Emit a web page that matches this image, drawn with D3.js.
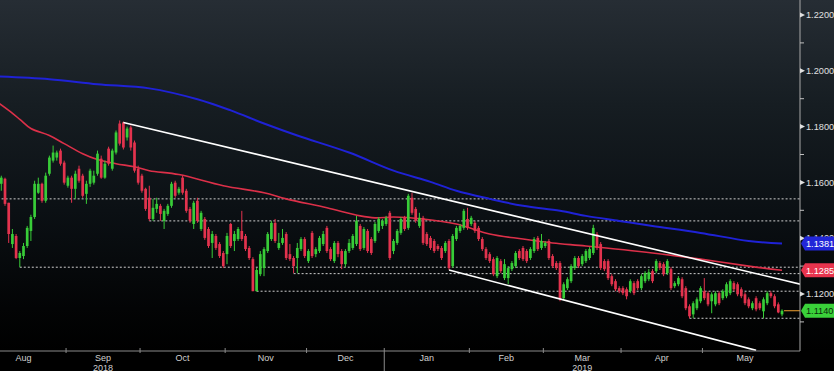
<!DOCTYPE html>
<html>
<head>
<meta charset="utf-8">
<script src="https://cdn.jsdelivr.net/npm/d3@7"></script>
<style>
  html, body { margin: 0; padding: 0; background: #000; overflow: hidden; }
</style>
</head>
<body>
<div id="chart"></div>
<script>
// daily EUR/USD candles, first one on 2018-08-08
const firstDate = "2018-08-08";
const opens = [
  1.1595,1.1613,1.1527,1.1379,1.1408,1.1329,1.1336,1.1372,1.1426,1.1476,
  1.1563,1.1595,1.1534,1.1631,1.1678,1.1689,1.1714,1.1671,1.1588,1.1617,
  1.1577,1.1649,1.1624,1.1559,1.1595,1.1599,1.1631,1.1685,1.1617,1.1721,
  1.1649,1.1707,1.1811,1.1815,1.1761,1.1797,1.1743,1.1649,1.1624,1.1577,
  1.1545,1.1469,1.1505,1.1516,1.1462,1.1487,1.1516,1.1599,1.1563,1.1617,
  1.1570,1.1505,1.1451,1.1534,1.1433,1.1469,1.1433,1.1383,1.1408,1.1379,
  1.1347,1.1343,1.1451,1.1390,1.1397,1.1426,1.1408,1.1365,1.1325,1.1210,
  1.1271,1.1293,1.1354,1.1397,1.1455,1.1365,1.1383,1.1415,1.1343,1.1329,
  1.1329,1.1361,1.1397,1.1318,1.1419,1.1343,1.1354,1.1379,1.1437,1.1361,
  1.1318,1.1383,1.1354,1.1307,1.1354,1.1365,1.1379,1.1444,1.1365,1.1426,
  1.1397,1.1390,1.1426,1.1444,1.1451,1.1491,1.1354,1.1383,1.1419,1.1473,
  1.1437,1.1545,1.1505,1.1444,1.1473,1.1415,1.1401,1.1390,1.1372,1.1365,
  1.1354,1.1390,1.1300,1.1397,1.1426,1.1437,1.1469,1.1451,1.1455,1.1437,
  1.1397,1.1361,1.1343,1.1325,1.1264,1.1318,1.1257,1.1257,1.1289,1.1300,
  1.1354,1.1365,1.1354,1.1329,1.1354,1.1401,1.1365,1.1372,1.1390,1.1336,
  1.1311,1.1311,1.1185,1.1221,1.1246,1.1293,1.1329,1.1307,1.1318,1.1329,
  1.1347,1.1415,1.1379,1.1318,1.1318,1.1264,1.1246,1.1221,1.1221,1.1217,
  1.1210,1.1239,1.1246,1.1221,1.1246,1.1253,1.1282,1.1282,1.1311,1.1307,
  1.1275,1.1289,1.1228,1.1235,1.1253,1.1221,1.1156,1.1127,1.1149,1.1174,
  1.1210,1.1203,1.1174,1.1163,1.1203,1.1185,1.1192,1.1203,1.1239,1.1235,
  1.1217,1.1199,1.1181,1.1149,1.1185,1.1167,1.1138,1.1167,1.1203,1.1192,
  1.1163,1.1127
];
const highs = [
  1.1624,1.1617,1.1527,1.1433,1.1415,1.1354,1.1383,1.1444,1.1484,1.1606,
  1.1617,1.1599,1.1635,1.1696,1.1732,1.1714,1.1721,1.1678,1.1624,1.1624,
  1.1642,1.1660,1.1631,1.1606,1.1649,1.1642,1.1714,1.1696,1.1678,1.1728,
  1.1721,1.1786,1.1822,1.1818,1.1800,1.1804,1.1750,1.1660,1.1631,1.1581,
  1.1588,1.1541,1.1545,1.1523,1.1505,1.1523,1.1602,1.1606,1.1584,1.1624,
  1.1577,1.1512,1.1534,1.1545,1.1498,1.1476,1.1440,1.1426,1.1415,1.1386,
  1.1354,1.1419,1.1455,1.1426,1.1440,1.1498,1.1415,1.1372,1.1332,1.1293,
  1.1354,1.1368,1.1422,1.1462,1.1469,1.1419,1.1433,1.1422,1.1379,1.1336,
  1.1383,1.1404,1.1404,1.1361,1.1426,1.1368,1.1408,1.1426,1.1444,1.1368,
  1.1390,1.1390,1.1361,1.1361,1.1397,1.1415,1.1480,1.1451,1.1440,1.1433,
  1.1404,1.1458,1.1476,1.1469,1.1480,1.1498,1.1397,1.1433,1.1476,1.1480,
  1.1559,1.1563,1.1512,1.1491,1.1480,1.1422,1.1408,1.1397,1.1379,1.1372,
  1.1390,1.1397,1.1415,1.1444,1.1451,1.1505,1.1509,1.1480,1.1462,1.1444,
  1.1404,1.1368,1.1350,1.1332,1.1336,1.1325,1.1325,1.1300,1.1318,1.1354,
  1.1361,1.1372,1.1361,1.1368,1.1404,1.1408,1.1415,1.1390,1.1397,1.1343,
  1.1318,1.1318,1.1242,1.1260,1.1307,1.1336,1.1336,1.1343,1.1361,1.1368,
  1.1448,1.1422,1.1386,1.1325,1.1325,1.1271,1.1253,1.1228,1.1228,1.1224,
  1.1253,1.1246,1.1253,1.1271,1.1282,1.1289,1.1289,1.1325,1.1318,1.1314,
  1.1325,1.1296,1.1246,1.1264,1.1260,1.1228,1.1163,1.1174,1.1188,1.1228,
  1.1257,1.1210,1.1206,1.1210,1.1210,1.1217,1.1242,1.1253,1.1246,1.1242,
  1.1224,1.1206,1.1188,1.1174,1.1192,1.1174,1.1188,1.1210,1.1210,1.1199,
  1.1170,1.1145
];
const lows = [
  1.1570,1.1516,1.1383,1.1365,1.1325,1.1296,1.1325,1.1365,1.1390,1.1469,
  1.1559,1.1527,1.1527,1.1624,1.1671,1.1678,1.1660,1.1592,1.1581,1.1527,
  1.1541,1.1599,1.1545,1.1523,1.1584,1.1592,1.1624,1.1613,1.1613,1.1660,
  1.1642,1.1700,1.1732,1.1718,1.1750,1.1714,1.1635,1.1592,1.1563,1.1498,
  1.1462,1.1462,1.1491,1.1462,1.1433,1.1480,1.1509,1.1545,1.1556,1.1556,
  1.1491,1.1455,1.1433,1.1455,1.1426,1.1394,1.1365,1.1329,1.1358,1.1329,
  1.1293,1.1307,1.1365,1.1354,1.1390,1.1390,1.1354,1.1322,1.1210,1.1210,
  1.1264,1.1264,1.1347,1.1390,1.1383,1.1358,1.1376,1.1322,1.1318,1.1275,
  1.1275,1.1354,1.1329,1.1311,1.1329,1.1332,1.1347,1.1372,1.1347,1.1318,
  1.1311,1.1332,1.1289,1.1296,1.1347,1.1358,1.1372,1.1354,1.1358,1.1347,
  1.1340,1.1383,1.1419,1.1433,1.1444,1.1322,1.1343,1.1376,1.1412,1.1426,
  1.1430,1.1484,1.1455,1.1437,1.1376,1.1372,1.1358,1.1347,1.1354,1.1322,
  1.1347,1.1286,1.1293,1.1390,1.1419,1.1430,1.1430,1.1444,1.1419,1.1390,
  1.1354,1.1322,1.1311,1.1264,1.1257,1.1275,1.1250,1.1235,1.1282,1.1293,
  1.1322,1.1318,1.1311,1.1322,1.1347,1.1354,1.1358,1.1365,1.1322,1.1293,
  1.1286,1.1174,1.1178,1.1214,1.1239,1.1286,1.1293,1.1300,1.1311,1.1322,
  1.1340,1.1358,1.1286,1.1282,1.1250,1.1228,1.1210,1.1203,1.1196,1.1181,
  1.1203,1.1196,1.1214,1.1214,1.1239,1.1246,1.1239,1.1275,1.1286,1.1264,
  1.1268,1.1214,1.1221,1.1228,1.1185,1.1142,1.1113,1.1113,1.1142,1.1167,
  1.1178,1.1156,1.1131,1.1156,1.1160,1.1178,1.1185,1.1196,1.1210,1.1192,
  1.1185,1.1160,1.1149,1.1142,1.1138,1.1142,1.1113,1.1160,1.1185,1.1149,
  1.1131,1.1120
];
const closes = [
  1.1617,1.1523,1.1415,1.1415,1.1329,1.1347,1.1372,1.1437,1.1476,1.1595,
  1.1595,1.1534,1.1624,1.1689,1.1707,1.1707,1.1667,1.1599,1.1617,1.1577,
  1.1631,1.1606,1.1552,1.1595,1.1642,1.1624,1.1703,1.1617,1.1667,1.1667,
  1.1714,1.1779,1.1739,1.1725,1.1793,1.1725,1.1642,1.1599,1.1570,1.1505,
  1.1469,1.1509,1.1523,1.1487,1.1498,1.1516,1.1595,1.1552,1.1577,1.1563,
  1.1498,1.1462,1.1527,1.1462,1.1491,1.1401,1.1372,1.1415,1.1365,1.1336,
  1.1300,1.1408,1.1372,1.1415,1.1433,1.1397,1.1361,1.1329,1.1210,1.1286,
  1.1343,1.1361,1.1415,1.1455,1.1390,1.1383,1.1401,1.1329,1.1325,1.1300,
  1.1365,1.1397,1.1336,1.1354,1.1336,1.1361,1.1401,1.1415,1.1354,1.1325,
  1.1383,1.1343,1.1307,1.1354,1.1383,1.1408,1.1462,1.1361,1.1433,1.1354,
  1.1347,1.1451,1.1469,1.1462,1.1473,1.1329,1.1390,1.1426,1.1469,1.1433,
  1.1552,1.1491,1.1462,1.1473,1.1383,1.1379,1.1365,1.1354,1.1361,1.1329,
  1.1383,1.1293,1.1408,1.1437,1.1444,1.1498,1.1437,1.1473,1.1426,1.1397,
  1.1361,1.1329,1.1318,1.1271,1.1329,1.1282,1.1307,1.1293,1.1311,1.1347,
  1.1329,1.1325,1.1318,1.1361,1.1397,1.1361,1.1390,1.1383,1.1329,1.1300,
  1.1293,1.1181,1.1235,1.1253,1.1300,1.1329,1.1300,1.1336,1.1354,1.1361,
  1.1437,1.1365,1.1293,1.1289,1.1257,1.1235,1.1217,1.1210,1.1203,1.1192,
  1.1246,1.1203,1.1221,1.1264,1.1275,1.1278,1.1246,1.1318,1.1293,1.1271,
  1.1318,1.1221,1.1239,1.1257,1.1192,1.1149,1.1120,1.1167,1.1181,1.1221,
  1.1185,1.1163,1.1199,1.1203,1.1167,1.1210,1.1235,1.1246,1.1217,1.1199,
  1.1192,1.1167,1.1156,1.1167,1.1145,1.1149,1.1181,1.1203,1.1192,1.1156,
  1.1134,1.1140
];

// moving averages, read at trading-day index (0 = 2018-08-01)
const ma200Days = [4, 18, 31, 45, 58, 67, 76, 85, 99, 111, 121, 128, 137, 146, 156, 163, 172, 181, 194, 207, 216];
const ma200Vals = [1.1980, 1.1970, 1.1952, 1.1937, 1.1898, 1.1858, 1.1811, 1.1768, 1.1707, 1.1642, 1.1602,
                   1.1570, 1.1541, 1.1516, 1.1498, 1.1480, 1.1462, 1.1444, 1.1419, 1.1390, 1.1381];
const ma100Days = [4, 7, 10, 13, 18, 22, 27, 31, 36, 41, 45, 53, 65, 76, 82, 93, 102, 106, 111, 119,
                   128, 137, 146, 154, 163, 181, 194, 207, 216];
const ma100Vals = [1.1887, 1.1858, 1.1826, 1.1793, 1.1768, 1.1739, 1.1703, 1.1682, 1.1667, 1.1656,
                   1.1642, 1.1628, 1.1588, 1.1563, 1.1541, 1.1509, 1.1480, 1.1473, 1.1476, 1.1469,
                   1.1451, 1.1415, 1.1397, 1.1383, 1.1372, 1.1347, 1.1325, 1.1300, 1.1285];

// channel lines [start day, end day] / [start price, end price]
const trendDays = [[38, 221], [126, 209]];
const trendVals = [[1.1815, 1.1235], [1.1286, 1.0998]];

// dotted support / resistance levels
const levelDays = [4, 45, 10, 84, 74, 191];
const levelVals = [1.1541, 1.1462, 1.1296, 1.1273, 1.1210, 1.1113];

const yTicks = [1.12, 1.14, 1.16, 1.18, 1.20, 1.22];
const yMinor = [1.11, 1.13, 1.15, 1.17, 1.19, 1.21];
const yearLabels = ["2018", "2019"];
const yearUnder = ["Sep", "Mar"];

// last-value tags: 200d MA, 100d MA, last close
const tagVals = [1.1381, 1.1285, 1.1140];
const tagFill = ["#2226d8", "#e8344e", "#3ad13a"];
const tagText = ["#ffffff", "#ffffff", "#0b2a0b"];

const W = 834, H = 371;
const plotR = 800, plotB = 351;
const step = 3.7;

const svg = d3.select("#chart").append("svg")
              .attr("width", W)
              .attr("height", H)
              .style("font-family", "'Liberation Sans', Arial, sans-serif");

const defs = svg.append("defs");
const grad = defs.append("linearGradient")
                 .attr("id", "bg")
                 .attr("x1", 0).attr("y1", 0).attr("x2", 0).attr("y2", 1);
[[0, "#262d34"], [0.3, "#161d22"], [0.6, "#0b1014"], [0.88, "#030405"], [1, "#000"]]
  .forEach(s => grad.append("stop").attr("offset", s[0]).attr("stop-color", s[1]));

defs.append("clipPath").attr("id", "plotclip")
    .append("rect").attr("x", 0).attr("y", 0).attr("width", plotR).attr("height", plotB);

svg.append("rect").attr("width", W).attr("height", H).attr("fill", "#000");
svg.append("rect").attr("width", W).attr("height", plotB).attr("fill", "url(#bg)");

// scales
const x = d3.scaleLinear().domain([0, 221]).range([-17.2, -17.2 + 221 * step]);
const y = d3.scaleLinear().domain([1.12, 1.22]).range([294, 15]);

// calendar of trading days (weekdays) for the axis
const tradingDays = d3.timeDay.range(new Date(2018, 7, 1), new Date(2019, 5, 1))
                      .filter(d => d.getDay() % 6 !== 0);
const fmtDay = d3.timeFormat("%Y-%m-%d");
const offset = tradingDays.findIndex(d => fmtDay(d) === firstDate);

const candles = opens.map((o, k) => ({
    i: offset + k, o: o, h: highs[k], l: lows[k], c: closes[k]
}));

const plot = svg.append("g").attr("clip-path", "url(#plotclip)");

// levels
plot.selectAll(".level")
    .data(levelVals)
    .enter().append("line")
    .attr("x1", (d, k) => x(levelDays[k]))
    .attr("x2", plotR)
    .attr("y1", d => y(d))
    .attr("y2", d => y(d))
    .attr("stroke", "#cfcfcf")
    .attr("stroke-width", 1)
    .attr("stroke-dasharray", "2,2");

// moving averages
const maLine = d3.line().curve(d3.curveCatmullRom);
plot.append("path")
    .attr("d", maLine(ma200Days.map((d, k) => [x(d), y(ma200Vals[k])])))
    .attr("fill", "none")
    .attr("stroke", "#1f22d6")
    .attr("stroke-width", 2);
plot.append("path")
    .attr("d", maLine(ma100Days.map((d, k) => [x(d), y(ma100Vals[k])])))
    .attr("fill", "none")
    .attr("stroke", "#dc3049")
    .attr("stroke-width", 1.6);

// candles
const up = "#38cc38", down = "#e3334e";
const cg = plot.selectAll(".candle")
               .data(candles)
               .enter().append("g");
cg.append("line")
  .attr("x1", d => x(d.i)).attr("x2", d => x(d.i))
  .attr("y1", d => y(d.h)).attr("y2", d => y(d.l))
  .attr("stroke", d => d.c >= d.o ? up : down)
  .attr("stroke-width", 1);
cg.append("rect")
  .attr("x", d => x(d.i) - 1.35)
  .attr("width", 2.7)
  .attr("y", d => y(Math.max(d.o, d.c)))
  .attr("height", d => Math.max(1, Math.abs(y(d.o) - y(d.c))))
  .attr("fill", d => d.c >= d.o ? up : down);

// channel lines
plot.selectAll(".trend")
    .data(trendDays)
    .enter().append("line")
    .attr("x1", d => x(d[0])).attr("x2", d => x(d[1]))
    .attr("y1", (d, k) => y(trendVals[k][0]))
    .attr("y2", (d, k) => y(trendVals[k][1]))
    .attr("stroke", "#ffffff")
    .attr("stroke-width", 1.6);

// last price line
const last = candles[candles.length - 1];
svg.append("line")
   .attr("x1", x(last.i) + 2).attr("x2", plotR)
   .attr("y1", y(last.c)).attr("y2", y(last.c))
   .attr("stroke", "#f0a030")
   .attr("stroke-width", 1);

// right axis
svg.append("line")
   .attr("x1", plotR).attr("x2", plotR)
   .attr("y1", 0).attr("y2", plotB)
   .attr("stroke", "#a8a8a8");
svg.selectAll(".ytick")
   .data(yTicks)
   .enter().append("path")
   .attr("d", d => `M${plotR},${y(d) - 2.5}L${plotR + 5},${y(d)}L${plotR},${y(d) + 2.5}Z`)
   .attr("fill", "#e0e0e0");
svg.selectAll(".ylabel")
   .data(yTicks)
   .enter().append("text")
   .attr("x", plotR + 6)
   .attr("y", d => y(d))
   .attr("dy", "0.35em")
   .attr("font-size", "9.2px")
   .attr("fill", "#e0e0e0")
   .text(d => d3.format(".4f")(d));
svg.selectAll(".yminor")
   .data(yMinor)
   .enter().append("line")
   .attr("x1", plotR).attr("x2", plotR + 4)
   .attr("y1", d => y(d)).attr("y2", d => y(d))
   .attr("stroke", "#c0c0c0");

// value tags
const tags = svg.selectAll(".tag")
                .data(tagVals)
                .enter().append("g");
tags.append("path")
    .attr("d", d => {
        const cy = y(d);
        return `M${plotR + 1},${cy}L${plotR + 5},${cy - 7}L${W},${cy - 7}L${W},${cy + 7}L${plotR + 5},${cy + 7}Z`;
    })
    .attr("fill", (d, k) => tagFill[k]);
tags.append("text")
    .attr("x", plotR + 6)
    .attr("y", d => y(d))
    .attr("dy", "0.35em")
    .attr("font-size", "9.2px")
    .attr("fill", (d, k) => tagText[k])
    .text(d => d3.format(".4f")(d));

// bottom axis
svg.append("line")
   .attr("x1", 0).attr("x2", plotR)
   .attr("y1", plotB).attr("y2", plotB)
   .attr("stroke", "#8a8a8a");

const monthStarts = tradingDays.map((d, k) => k)
                               .filter(k => k === 0 || tradingDays[k].getMonth() !== tradingDays[k - 1].getMonth());
const bounds = monthStarts.map(k => x(k) - step / 2).concat([x(tradingDays.length - 1) + step / 2]);
const fmtMonth = d3.timeFormat("%b");

svg.selectAll(".mtick")
   .data(monthStarts.slice(1))
   .enter().append("line")
   .attr("x1", (d, k) => bounds[k + 1]).attr("x2", (d, k) => bounds[k + 1])
   .attr("y1", plotB - 3)
   .attr("y2", d => tradingDays[d].getMonth() === 0 ? H : plotB + 2)
   .attr("stroke", "#8a8a8a");

svg.selectAll(".mlabel")
   .data(monthStarts)
   .enter().append("text")
   .attr("x", (d, k) => (bounds[k] + bounds[k + 1]) / 2)
   .attr("y", plotB + 9.5)
   .attr("text-anchor", "middle")
   .attr("font-size", "9px")
   .attr("fill", "#d0d0d0")
   .text(d => fmtMonth(tradingDays[d]));

svg.selectAll(".ylab")
   .data(yearLabels)
   .enter().append("text")
   .attr("x", (d, k) => {
       const m = monthStarts.findIndex(s => fmtMonth(tradingDays[s]) === yearUnder[k]);
       return (bounds[m] + bounds[m + 1]) / 2;
   })
   .attr("y", plotB + 19.5)
   .attr("text-anchor", "middle")
   .attr("font-size", "9px")
   .attr("fill", "#d0d0d0")
   .text(d => d);
</script>
</body>
</html>
